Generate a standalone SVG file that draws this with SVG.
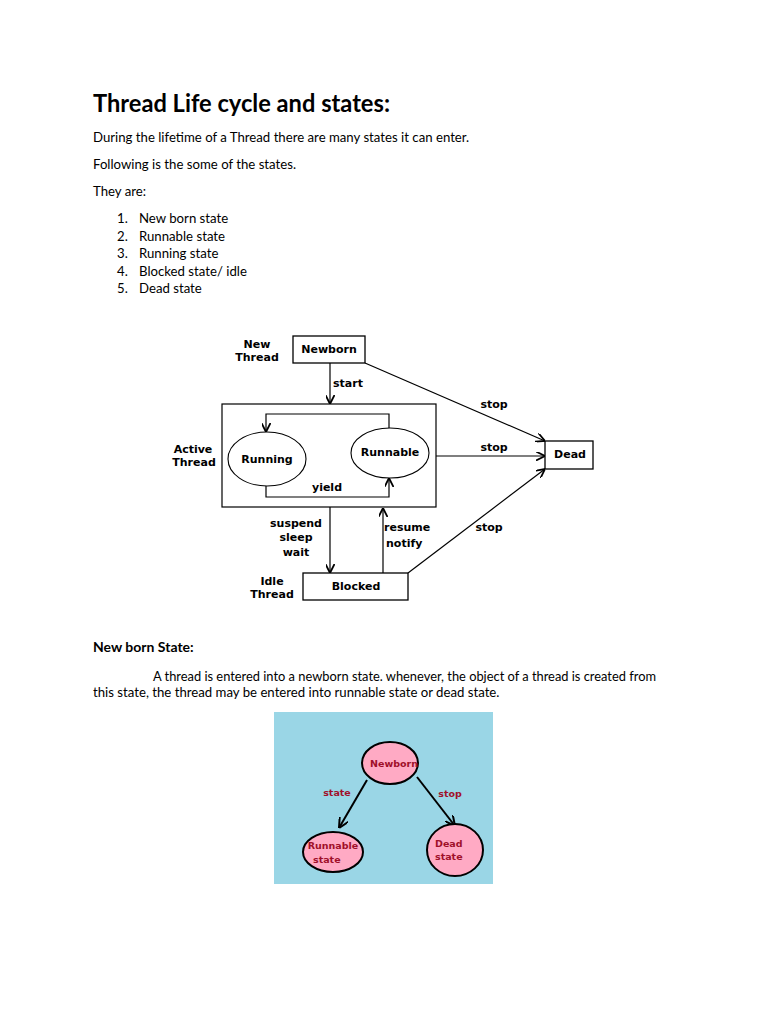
<svg xmlns="http://www.w3.org/2000/svg" width="768" height="1024" viewBox="0 0 768 1024">
<defs>
<style>
.doc{font-family:Lato,"Open Sans","Liberation Sans",sans-serif;font-size:13.2px;fill:#000}
.dg{font-family:"DejaVu Sans",sans-serif;font-weight:bold;font-size:11px;fill:#000}
.box{fill:#fff;stroke:#000;stroke-width:1.3}
.ln{fill:none;stroke:#000;stroke-width:1.2}
.pk{fill:#ffaac4;stroke:#000;stroke-width:2}
.pt{font-family:"DejaVu Sans",sans-serif;font-weight:bold;font-size:9.5px;fill:#a0102a}
.al{fill:none;stroke:#000;stroke-width:2}
</style>
<marker id="ah" viewBox="0 0 10 10" refX="10" refY="5" markerWidth="9" markerHeight="9" markerUnits="userSpaceOnUse" orient="auto">
<path d="M0,0 L10,5 L0,10" fill="none" stroke="#000" stroke-width="2"/>
</marker>
<marker id="ah2" viewBox="0 0 10 10" refX="10" refY="5" markerWidth="10" markerHeight="10" markerUnits="userSpaceOnUse" orient="auto">
<path d="M0,0 L10,5 L0,10" fill="none" stroke="#000" stroke-width="2"/>
</marker>
</defs>
<rect width="768" height="1024" fill="#fff"/>

<g id="text-top">
<text x="93" y="112" font-family="Lato,'Open Sans','Liberation Sans',sans-serif" font-weight="bold" font-size="25" textLength="297" lengthAdjust="spacingAndGlyphs">Thread Life cycle and states:</text>
<text class="doc" x="93" y="142">During the lifetime of a Thread there are many states it can enter.</text>
<text class="doc" x="93" y="169">Following is the some of the states.</text>
<text class="doc" x="93" y="196">They are:</text>
<text class="doc" x="117" y="223">1.</text><text class="doc" x="139" y="223">New born state</text>
<text class="doc" x="117" y="241">2.</text><text class="doc" x="139" y="241">Runnable state</text>
<text class="doc" x="117" y="258">3.</text><text class="doc" x="139" y="258">Running state</text>
<text class="doc" x="117" y="276">4.</text><text class="doc" x="139" y="276">Blocked state/ idle</text>
<text class="doc" x="117" y="293">5.</text><text class="doc" x="139" y="293">Dead state</text>
</g>

<g id="connectors">
<line class="ln" x1="330" y1="363" x2="330" y2="404" marker-end="url(#ah)"/>
<path class="ln" d="M389,428 V414 H266 V432" marker-end="url(#ah)"/>
<path class="ln" d="M266,485 V497 H389 V478" marker-end="url(#ah)"/>
<line class="ln" x1="365" y1="363" x2="545" y2="441" marker-end="url(#ah)"/>
<line class="ln" x1="436" y1="456" x2="545" y2="456" marker-end="url(#ah)"/>
<line class="ln" x1="330" y1="507" x2="330" y2="573" marker-end="url(#ah)"/>
<line class="ln" x1="383" y1="573" x2="383" y2="508" marker-end="url(#ah)"/>
<line class="ln" x1="408" y1="573" x2="545" y2="469" marker-end="url(#ah)"/>
<text class="dg" x="333" y="387">start</text>
<text class="dg" x="327" y="491" text-anchor="middle">yield</text>
<text class="dg" x="494" y="408" text-anchor="middle">stop</text>
<text class="dg" x="494" y="451" text-anchor="middle">stop</text>
<text class="dg" x="489" y="531" text-anchor="middle">stop</text>
<text class="dg" x="296" y="527" text-anchor="middle">suspend</text>
<text class="dg" x="296" y="541" text-anchor="middle">sleep</text>
<text class="dg" x="296" y="556" text-anchor="middle">wait</text>
<text class="dg" x="384" y="531">resume</text>
<text class="dg" x="386" y="547">notify</text>
</g>

<g id="newborn">
<rect class="box" x="293" y="336" width="72" height="27"/>
<text class="dg" x="329" y="353" text-anchor="middle">Newborn</text>
<text class="dg" x="257" y="348" text-anchor="middle">New</text>
<text class="dg" x="257" y="361" text-anchor="middle">Thread</text>
</g>

<g id="active">
<rect class="ln" x="222" y="404" width="214" height="103"/>
<text class="dg" x="193" y="453" text-anchor="middle">Active</text>
<text class="dg" x="194" y="466" text-anchor="middle">Thread</text>
</g>

<g id="running">
<ellipse class="box" cx="267" cy="459" rx="39" ry="27" style="stroke-width:1.1"/>
<text class="dg" x="267" y="463" text-anchor="middle">Running</text>
</g>

<g id="runnable">
<ellipse class="box" cx="390" cy="453" rx="39" ry="25" style="stroke-width:1.1"/>
<text class="dg" x="390" y="456" text-anchor="middle">Runnable</text>
</g>

<g id="dead">
<rect class="box" x="545" y="441" width="48" height="28"/>
<text class="dg" x="570" y="458" text-anchor="middle">Dead</text>
</g>

<g id="blocked">
<rect class="box" x="303" y="573" width="105" height="27"/>
<text class="dg" x="356" y="590" text-anchor="middle">Blocked</text>
<text class="dg" x="272" y="585" text-anchor="middle">Idle</text>
<text class="dg" x="272" y="598" text-anchor="middle">Thread</text>
</g>

<g id="text-bottom">
<text x="93" y="652" font-family="Lato,'Open Sans','Liberation Sans',sans-serif" font-weight="bold" font-size="14">New born State:</text>
<text class="doc" x="153" y="681" textLength="503" lengthAdjust="spacingAndGlyphs">A thread is entered into a newborn state. whenever, the object of a thread is created from</text>
<text class="doc" x="93" y="697">this state, the thread may be entered into runnable state or dead state.</text>
</g>

<g id="pic">
<rect x="274" y="712" width="219" height="172" fill="#9ad6e6"/>
<g id="pic-connectors">
<line class="al" x1="367" y1="780" x2="339" y2="828" marker-end="url(#ah2)"/>
<line class="al" x1="417" y1="777" x2="455" y2="826" marker-end="url(#ah2)"/>
<text class="pt" x="337" y="796" text-anchor="middle">state</text>
<text class="pt" x="450" y="797" text-anchor="middle">stop</text>
</g>
<g id="pic-newborn">
<ellipse class="pk" cx="390" cy="763" rx="28" ry="21"/>
<text class="pt" x="394" y="767" text-anchor="middle">Newborn</text>
</g>
<g id="pic-runnable">
<ellipse class="pk" cx="333" cy="852" rx="30" ry="20"/>
<text class="pt" x="333" y="849" text-anchor="middle">Runnable</text>
<text class="pt" x="313" y="863">state</text>
</g>
<g id="pic-dead">
<ellipse class="pk" cx="455" cy="850" rx="28" ry="26"/>
<text class="pt" x="435" y="847">Dead</text>
<text class="pt" x="435" y="860">state</text>
</g>
</g>
</svg>
